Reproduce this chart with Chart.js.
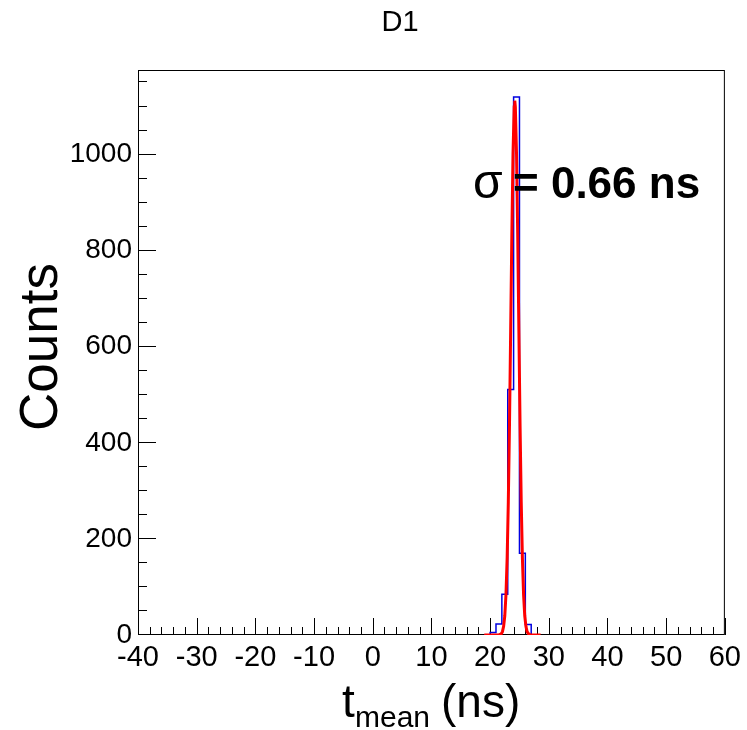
<!DOCTYPE html>
<html>
<head>
<meta charset="utf-8">
<script src="https://cdn.jsdelivr.net/npm/chart.js@4.4.1/dist/chart.umd.min.js"></script>
<style>
  html, body { margin: 0; padding: 0; background: #fff; }
  canvas { display: block; }
</style>
</head>
<body>
<canvas id="c" width="747" height="730"></canvas>
<script>
const FONT = "'Liberation Sans', Arial, Helvetica, sans-serif";

// histogram: lower bin edges (ns) and counts per bin
const binLow = [19, 20, 21, 22, 23, 24, 25, 26, 27];
const counts = [0, 5, 23, 85, 511, 1120, 170, 22, 0];

// gaussian fit (red line)
const fitX = [19.0, 20.9, 21.5, 21.9, 22.1, 22.3, 22.5, 22.7, 22.9, 23.1, 23.3, 23.5, 23.7, 23.9, 24.1,
              24.2, 24.3, 24.5, 24.7, 24.9, 25.1, 25.3, 25.5, 25.7, 25.9, 26.1, 26.3, 26.5, 26.9, 28.6];
const fitY = [0, 0, 0.3, 2.6, 7, 18, 40, 84, 160, 277, 438, 633, 833, 1001, 1099,
              1112, 1099, 1001, 833, 633, 438, 277, 160, 84, 40, 18, 7, 3, 0, 0];

const xTicks = [-40, -30, -20, -10, 0, 10, 20, 30, 40, 50, 60];
const yTicks = [0, 200, 400, 600, 800, 1000];
const X_MIN = -40, X_MAX = 60, Y_MAX = 1176;

const histData = binLow.map((x, i) => ({ x, y: counts[i] }));
const fitData = fitX.map((x, i) => ({ x, y: fitY[i] }));

// ROOT-style frame with inward tick marks (under the data, like ROOT) + free text
const decor = {
    id: 'decor',
    beforeDatasetsDraw(chart) {
        const { ctx, chartArea: a, scales: { x, y } } = chart;
        ctx.save();
        ctx.strokeStyle = '#000';
        ctx.lineWidth = 1;
        ctx.strokeRect(a.left + 0.5, a.top + 0.5, a.right - a.left - 1, a.bottom - a.top - 1);

        ctx.beginPath();
        for (let v = X_MIN; v <= X_MAX; v += 2) {
            const px = Math.round(x.getPixelForValue(v)) + 0.5;
            const len = v % 10 === 0 ? 17 : 8;
            ctx.moveTo(px, a.bottom);
            ctx.lineTo(px, a.bottom - len);
        }
        for (let v = 0; v <= Y_MAX; v += 50) {
            const py = Math.round(y.getPixelForValue(v)) - 0.5;
            const len = v % 200 === 0 ? 18 : 9;
            ctx.moveTo(a.left, py);
            ctx.lineTo(a.left + len, py);
        }
        ctx.stroke();
        ctx.restore();
    },
    afterDraw(chart) {
        const { ctx } = chart;
        ctx.save();
        ctx.fillStyle = '#000';
        ctx.textBaseline = 'alphabetic';

        // title
        ctx.textAlign = 'center';
        ctx.font = `29px ${FONT}`;
        ctx.fillText('D1', 400, 31);

        // y title
        ctx.save();
        ctx.translate(57, 347);
        ctx.rotate(-Math.PI / 2);
        ctx.font = `53px ${FONT}`;
        ctx.fillText('Counts', 0, 0);
        ctx.restore();

        // x title: t_mean (ns)
        ctx.textAlign = 'left';
        ctx.font = `46px ${FONT}`;
        ctx.fillText('t', 342, 717);
        ctx.font = `30px ${FONT}`;
        ctx.fillText('mean', 355, 727);
        ctx.font = `46px ${FONT}`;
        ctx.fillText('(ns)', 441, 717);

        // fit result
        ctx.font = `48px ${FONT}`;
        ctx.fillText('\u03c3', 473, 198);
        ctx.font = `bold 44px ${FONT}`;
        ctx.fillText('= 0.66 ns', 513, 198);
        ctx.restore();
    },
};

new Chart(document.getElementById('c').getContext('2d'), {
    type: 'line',
    data: {
        datasets: [
            {
                label: 'fit',
                data: fitData,
                borderColor: '#ff0000',
                borderWidth: 3,
                pointRadius: 0,
                tension: 0,
                order: 0,
            },
            {
                label: 'tmean',
                data: histData,
                stepped: 'before',
                borderColor: '#0000e0',
                borderWidth: 1.5,
                pointRadius: 0,
                order: 1,
            },
        ],
    },
    options: {
        responsive: false,
        animation: false,
        devicePixelRatio: 1,
        layout: { padding: { top: 70, right: 21, left: 0, bottom: 0 } },
        plugins: { legend: { display: false }, tooltip: { enabled: false }, title: { display: false } },
        scales: {
            x: {
                type: 'linear',
                min: X_MIN,
                max: X_MAX,
                afterBuildTicks: s => { s.ticks = xTicks.map(v => ({ value: v })); },
                afterFit: s => { s.height = 95; },
                grid: { display: false, drawTicks: false },
                border: { display: false },
                ticks: {
                    autoSkip: false,
                    maxRotation: 0,
                    padding: 6,
                    color: '#000',
                    font: { family: FONT, size: 29 },
                    callback: v => String(v),
                },
            },
            y: {
                type: 'linear',
                min: 0,
                max: Y_MAX,
                afterBuildTicks: s => { s.ticks = yTicks.map(v => ({ value: v })); },
                afterFit: s => { s.width = 138; },
                grid: { display: false, drawTicks: false },
                border: { display: false },
                ticks: {
                    padding: 6,
                    color: '#000',
                    font: { family: FONT, size: 28 },
                    callback: v => String(v),
                },
            },
        },
    },
    plugins: [decor],
});
</script>
</body>
</html>
